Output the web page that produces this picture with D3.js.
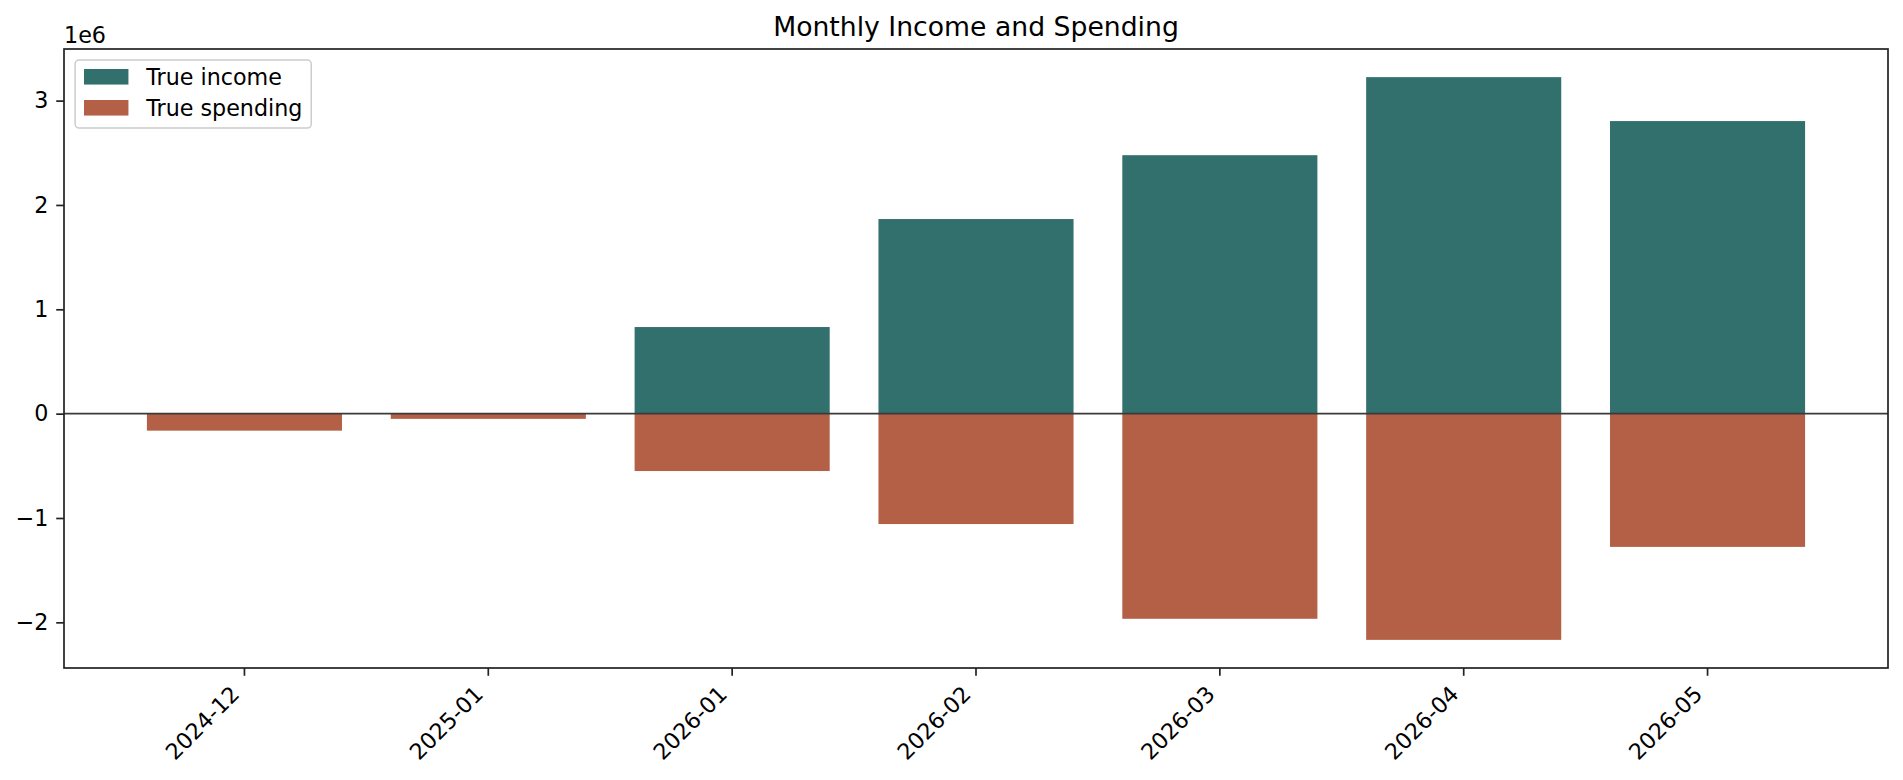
<!DOCTYPE html>
<html>
<head>
<meta charset="utf-8">
<script src="https://cdn.jsdelivr.net/npm/d3@7"></script>
<style>
  body { margin: 0; background: #fff; }
  text { font-family: "DejaVu Sans", sans-serif; fill: #000; }
</style>
</head>
<body>
<svg id="chart"></svg>
<script>
var months = ['2024-12', '2025-01', '2026-01', '2026-02', '2026-03', '2026-04', '2026-05'];
var income = [0, 0, 830000, 1865000, 2477000, 3225000, 2804000];
var spending = [-163000, -50000, -550000, -1058000, -1966000, -2168000, -1277000];
var yTicks = [-2e6, -1e6, 0, 1e6, 2e6, 3e6];
var seriesNames = ['True income', 'True spending'];
var seriesColors = ['#32706e', '#b36046'];

var svgWidth = 1903;
var svgHeight = 780;
// plot area (window.top is reserved, so use a small object)
var plot = {left: 64, right: 1888, top: 49, bottom: 668};
var pt = 160 / 72;
var fs = 10 * pt;
var tickLen = 3.5 * pt, tickPad = 3.5 * pt;

var svg = d3.select('#chart')
	.attr('width', svgWidth)
	.attr('height', svgHeight);

var xScale = d3.scaleBand()
	.domain(months)
	.range([plot.left, plot.right])
	.paddingInner(0.2)
	.paddingOuter(0.34);

// matplotlib style 5% margins
var lo = d3.min(spending.concat([0]));
var hi = d3.max(income.concat([0]));
var span = hi - lo;
var yScale = d3.scaleLinear()
	.domain([lo - span * 0.05, hi + span * 0.05])
	.range([plot.bottom, plot.top]);

var rows = months.map((m, i) => ({month: m, income: income[i], spending: spending[i]}));

svg.append('g')
	.selectAll('rect')
	.data(rows)
	.enter()
	.append('rect')
	.attr('x', d => xScale(d.month))
	.attr('width', xScale.bandwidth())
	.attr('y', d => yScale(d.income))
	.attr('height', d => yScale(0) - yScale(d.income))
	.attr('fill', seriesColors[0]);

svg.append('g')
	.selectAll('rect')
	.data(rows)
	.enter()
	.append('rect')
	.attr('x', d => xScale(d.month))
	.attr('width', xScale.bandwidth())
	.attr('y', yScale(0))
	.attr('height', d => yScale(d.spending) - yScale(0))
	.attr('fill', seriesColors[1]);

// zero line
svg.append('line')
	.attr('x1', plot.left)
	.attr('x2', plot.right)
	.attr('y1', yScale(0))
	.attr('y2', yScale(0))
	.attr('stroke', '#3a3a3a')
	.attr('stroke-width', 1.6);

// y axis
var yAxis = d3.axisLeft(yScale)
	.tickValues(yTicks)
	.tickFormat(d => d3.format('d')(d / 1e6))
	.tickSize(tickLen)
	.tickPadding(tickPad)
	.tickSizeOuter(0);
var yG = svg.append('g')
	.attr('transform', `translate(${plot.left},0)`)
	.call(yAxis);
yG.select('.domain').remove();
yG.selectAll('line').attr('stroke', '#222').attr('stroke-width', 1.7);
yG.selectAll('text')
	.attr('font-size', fs)
	.attr('font-family', 'DejaVu Sans')
	.attr('fill', '#000');

// x axis
var xAxis = d3.axisBottom(xScale)
	.tickSize(tickLen)
	.tickSizeOuter(0);
var xG = svg.append('g')
	.attr('transform', `translate(0,${plot.bottom})`)
	.call(xAxis);
xG.select('.domain').remove();
xG.selectAll('line').attr('stroke', '#222').attr('stroke-width', 1.7);
var asc = 0.76 * fs, desc = 0.236 * fs;
xG.selectAll('text')
	.attr('font-size', fs)
	.attr('font-family', 'DejaVu Sans')
	.attr('fill', '#000')
	.attr('text-anchor', 'end')
	.attr('dy', null)
	.attr('y', null)
	.attr('transform', `translate(${-desc / Math.SQRT2},${tickLen + tickPad + asc / Math.SQRT2}) rotate(-45)`);

// frame
svg.append('rect')
	.attr('x', plot.left)
	.attr('y', plot.top)
	.attr('width', plot.right - plot.left)
	.attr('height', plot.bottom - plot.top)
	.attr('fill', 'none')
	.attr('stroke', '#222')
	.attr('stroke-width', 1.7);

// offset text
svg.append('text')
	.attr('x', plot.left)
	.attr('y', plot.top - 6)
	.attr('font-size', fs)
	.text('1e6');

// title
svg.append('text')
	.attr('x', (plot.left + plot.right) / 2)
	.attr('y', plot.top - 6 * pt)
	.attr('text-anchor', 'middle')
	.attr('font-size', 12 * pt)
	.text('Monthly Income and Spending');

// legend
var pad = 0.4 * fs;
var legend = svg.append('g').attr('transform', `translate(${plot.left + 0.5 * fs},${plot.top + 0.5 * fs})`);
var frame = legend.append('rect')
	.attr('height', 68)
	.attr('rx', 4)
	.attr('fill', '#fff')
	.attr('fill-opacity', 0.8)
	.attr('stroke', '#cccccc')
	.attr('stroke-width', 1.5);
var items = legend.selectAll('g.item')
	.data(seriesNames)
	.enter()
	.append('g')
	.attr('transform', (d, i) => `translate(0,${i * 31})`);
items.append('rect')
	.attr('x', pad)
	.attr('y', pad)
	.attr('width', 2 * fs)
	.attr('height', 0.7 * fs)
	.attr('fill', (d, i) => seriesColors[i]);
var textX = pad + 2.8 * fs;
var labels = items.append('text')
	.attr('x', textX)
	.attr('y', 25)
	.attr('font-size', fs)
	.text(d => d);
var maxLen = d3.max(labels.nodes(), n => n.getComputedTextLength());
frame.attr('width', textX + maxLen + pad);
</script>
</body>
</html>
